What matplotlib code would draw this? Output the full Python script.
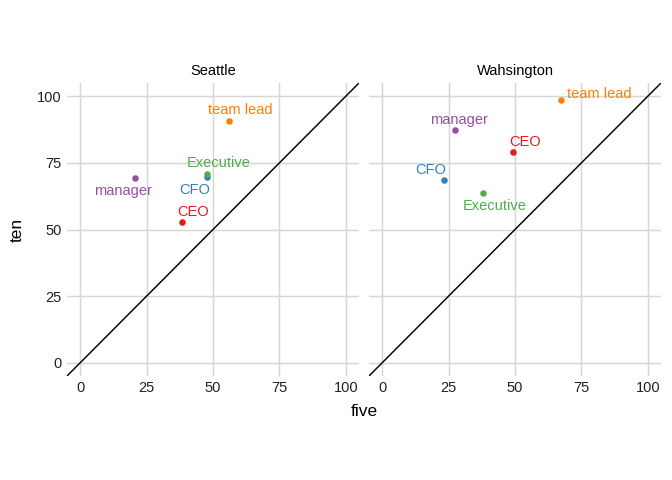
import matplotlib
matplotlib.use("Agg")
import matplotlib.pyplot as plt

plt.rcParams['font.family'] = ['Liberation Sans', 'DejaVu Sans']

roles = ["CEO", "CFO", "Executive", "manager", "team lead"]
colors = ["#E41A1C", "#377EB8", "#4DAF4A", "#984EA3", "#FF7F00"]

cities = ["Seattle", "Wahsington"]
five = {
    "Seattle": [38.2, 47.6, 47.9, 20.6, 56.2],
    "Wahsington": [49.1, 23.2, 37.8, 27.3, 67.4],
}
ten = {
    "Seattle": [52.8, 69.7, 70.8, 69.3, 90.6],
    "Wahsington": [79.0, 68.5, 63.7, 87.3, 98.5],
}
# label offsets (pixels) as placed by the repel step
offsets = {
    "Seattle": [(11, 10), (-12, -13), (11, 11), (-12, -13), (11, 11)],
    "Wahsington": [(12, 10), (-13, 10), (12, -13), (4, 10), (38, 6)],
}

fig = plt.figure(figsize=(7, 5), dpi=96)
lefts = [67 / 672, 369 / 672]
w = 292 / 672
bottom = 1 - 376 / 480
h = 293 / 480

for i, city in enumerate(cities):
    ax = fig.add_axes([lefts[i], bottom, w, h])
    ax.set_xlim(-5, 105)
    ax.set_ylim(-5, 105)
    ticks = [0, 25, 50, 75, 100]
    ax.set_xticks(ticks)
    ax.set_yticks(ticks)
    ax.grid(True, color="#D6D6D6", linewidth=1.1)
    ax.set_axisbelow(True)
    for s in ax.spines.values():
        s.set_visible(False)
    ax.tick_params(length=0, labelsize=11, labelcolor="#222222", pad=4)
    if i == 1:
        ax.tick_params(axis="y", labelleft=False)
    ax.plot([-5, 105], [-5, 105], color="black", linewidth=1.1, zorder=2)
    for j, role in enumerate(roles):
        x, y = five[city][j], ten[city][j]
        ax.scatter([x], [y], s=24, color=colors[j], zorder=3, linewidths=0)
        dx, dy = offsets[city][j]
        ax.annotate(role, (x, y), xytext=(dx * 0.75, dy * 0.75),
                    textcoords="offset points", ha="center", va="center",
                    color=colors[j], fontsize=11)
    ax.set_title(city, fontsize=11, pad=6)

fig.text(364 / 672, 1 - 411 / 480, "five", ha="center", va="center", fontsize=13)
fig.text(17 / 672, 1 - 230 / 480, "ten", ha="center", va="center", fontsize=13,
         rotation=90)

fig.savefig("out.png", dpi=96)
